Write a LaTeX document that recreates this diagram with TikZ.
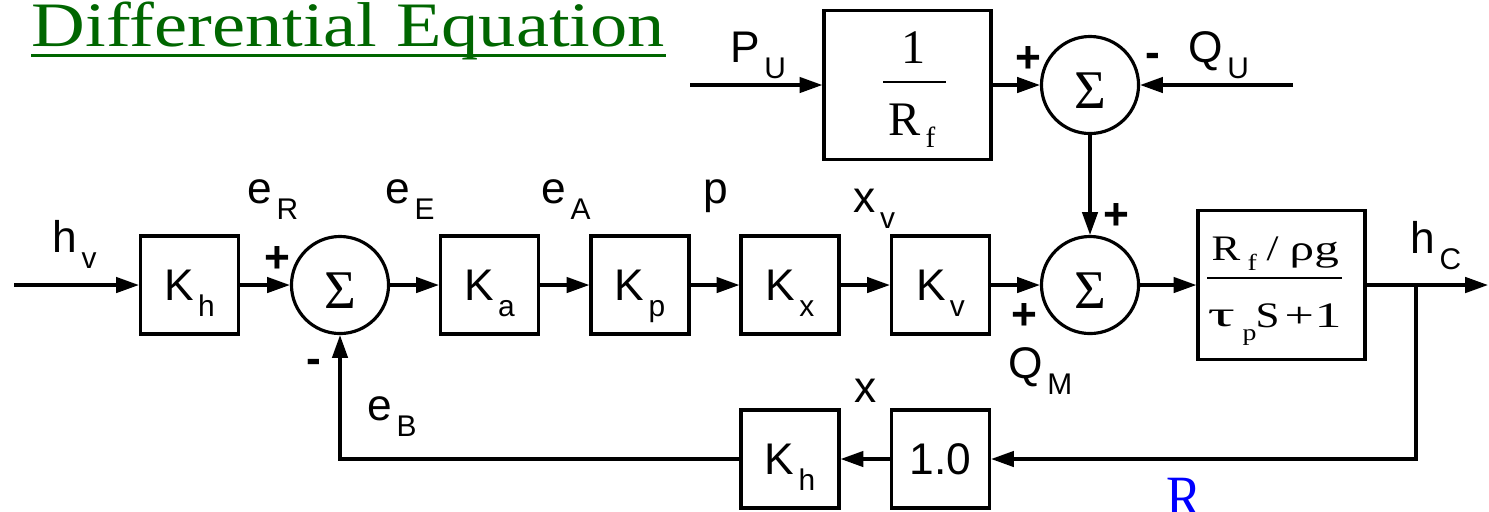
\documentclass[tikz,border=0pt]{standalone}
\usepackage{fontspec}
\setmainfont{Liberation Serif}
\newfontfamily\arial{Liberation Sans}
\newfontfamily\tnr{Liberation Serif}
\usetikzlibrary{arrows.meta}
\definecolor{titlegreen}{RGB}{0,102,0}
\definecolor{rblue}{RGB}{0,0,255}
\newcommand\sbs[1]{\smash{\raisebox{-4.6pt}{\kern1.2pt\fontsize{8.5}{8.5}\selectfont #1}}}
\newcommand\lowsig{\raisebox{-1.5pt}[\height][\depth]{Σ}}
\newcommand\xs[2]{\scalebox{#1}[1]{#2}}
\tikzset{
  wire/.style={line width=0.9pt, -{Triangle[length=6.5pt,width=4.4pt]}},
  blk/.style={draw, line width=0.9pt, minimum width=0.98cm, minimum height=0.98cm, inner sep=0pt,
              font=\arial\fontsize{12.6}{13}\selectfont},
  bigblk/.style={draw, line width=0.9pt, minimum width=1.67cm, minimum height=1.49cm, inner sep=0pt},
  sumnode/.style={draw, circle, line width=0.9pt, minimum size=0.97cm, inner sep=0pt,
              font=\tnr\fontsize{15.5}{16}\selectfont},
  lab/.style={inner sep=0pt, anchor=base west, font=\arial\fontsize{12.6}{13}\selectfont},
  sign/.style={inner sep=0pt, anchor=base, font=\arial\bfseries\fontsize{12.6}{13}\selectfont},
  fr/.style={inner sep=0pt, anchor=base west, font=\tnr\fontsize{13.7}{14}\selectfont},
  frs/.style={inner sep=0pt, anchor=base west, font=\tnr\fontsize{8.3}{9}\selectfont},
  gr/.style={inner sep=0pt, anchor=base west, font=\tnr\fontsize{10.2}{11}\selectfont},
  grs/.style={inner sep=0pt, anchor=base west, font=\tnr\fontsize{6.6}{7}\selectfont},
}
\begin{document}
\begin{tikzpicture}[x=0.01cm,y=-0.01cm]
\useasboundingbox (0,0) rectangle (1489,511);
% title
\node[inner sep=0pt, anchor=base west, font=\tnr\fontsize{18}{20}\selectfont, text=titlegreen] (title) at (31,46) {\xs{1.176}{Differential Equation}};
\draw[titlegreen, line width=1pt] ([yshift=-0.095cm]title.base west) -- ([yshift=-0.095cm]title.base east);

% main row
\coordinate (in) at (14,285);
\node[blk] (kh) at (189.5,285) {K\sbs{h}};
\node[sumnode] (s1) at (340,285) {\lowsig};
\node[blk] (ka) at (489.5,285) {K\sbs{a}};
\node[blk] (kp) at (640,285) {K\sbs{p}};
\node[blk] (kx) at (790,285) {K\sbs{x}};
\node[blk] (kv) at (940.5,285) {K\sbs{v}};
\node[sumnode] (s2) at (1090,285) {\lowsig};
\node[bigblk] (gp) at (1281.5,285) {};
\coordinate (jn) at (1416,285);
\coordinate (out) at (1488,285);

% top row
\coordinate (pu) at (690,85);
\node[bigblk] (rf) at (907.5,85) {};
\node[sumnode] (s3) at (1090,85) {\lowsig};
\coordinate (qu) at (1293,85);

% feedback row
\node[blk] (one) at (940.5,459) {1.0};
\node[blk] (kh2) at (790,459) {K\sbs{h}};

% connectors
\draw[wire] (in) -- (kh);
\draw[wire] (kh) -- (s1);
\draw[wire] (s1) -- (ka);
\draw[wire] (ka) -- (kp);
\draw[wire] (kp) -- (kx);
\draw[wire] (kx) -- (kv);
\draw[wire] (kv) -- (s2);
\draw[wire] (s2) -- (gp);
\draw[wire] (gp.east) -- (out);
\draw[wire] (jn) |- (one.east);
\draw[wire] (one) -- (kh2);
\draw[wire] (kh2.west) -| (s1.south);
\draw[wire] (pu) -- (rf.west);
\draw[wire] (rf.east) -- (s3.west);
\draw[wire] (qu) -- (s3.east);
\draw[wire] (s3.south) -- (s2.north);

% fraction 1/R_f
\node[fr, anchor=base] (n1) at (914,63) {1};
\draw[line width=0.75pt] (883,82) -- (946,82);
\node[fr] (nR) at (888,135) {R};
\node[frs] (nf) at (925,147) {f};

% fraction R_f/rho g over tau_p S + 1
\node[gr] (gR) at (1211,260) {\xs{1.2}{R}};
\node[grs] (gf) at (1247,270) {\xs{1.2}{f}};
\node[gr] (gsl) at (1266,260) {\xs{1.2}{/}};
\node[gr] (grho) at (1289,260) {\xs{1.37}{ρg}};
\draw[line width=0.75pt] (1207,278) -- (1342,278);
\node[gr] (gt) at (1207,326) {\xs{1.9}{τ}};
\node[grs] (gpp) at (1242,340) {\xs{1.2}{p}};
\node[gr] (gs) at (1255,327) {\xs{1.2}{S}};
\node[gr] (gplus) at (1284,327) {\xs{1.45}{+}};
\node[gr] (gone) at (1314,327) {\xs{1.5}{1}};

% signal labels
\node[lab] at (52,252) {h\sbs{v}};
\node[lab] at (247,203) {e\sbs{R}};
\node[lab] at (385,203) {e\sbs{E}};
\node[lab] at (541,203) {e\sbs{A}};
\node[lab] at (703,203) {p};
\node[lab] at (853,212) {x\sbs{v}};
\node[lab] at (854,402) {x};
\node[lab] at (367,420) {e\sbs{B}};
\node[lab] at (730,62) {P\sbs{U}};
\node[lab] at (1188,62) {Q\sbs{U}};
\node[lab] at (1008,378) {Q\sbs{M}};
\node[lab] at (1410,253) {h\sbs{C}};

% signs
\node[sign] at (277,272) {+};
\node[sign] at (314,373) {-};
\node[sign] at (1028,72) {+};
\node[sign] at (1153,67) {-};
\node[sign] at (1116,229) {+};
\node[sign] at (1024,329) {+};

% blue R (cut off at the bottom edge, as in the reference)
\node[inner sep=0pt, anchor=base west, font=\tnr\fontsize{17.5}{18}\selectfont, text=rblue] at (1166,518) {\xs{0.86}{R}};
\end{tikzpicture}
\end{document}
